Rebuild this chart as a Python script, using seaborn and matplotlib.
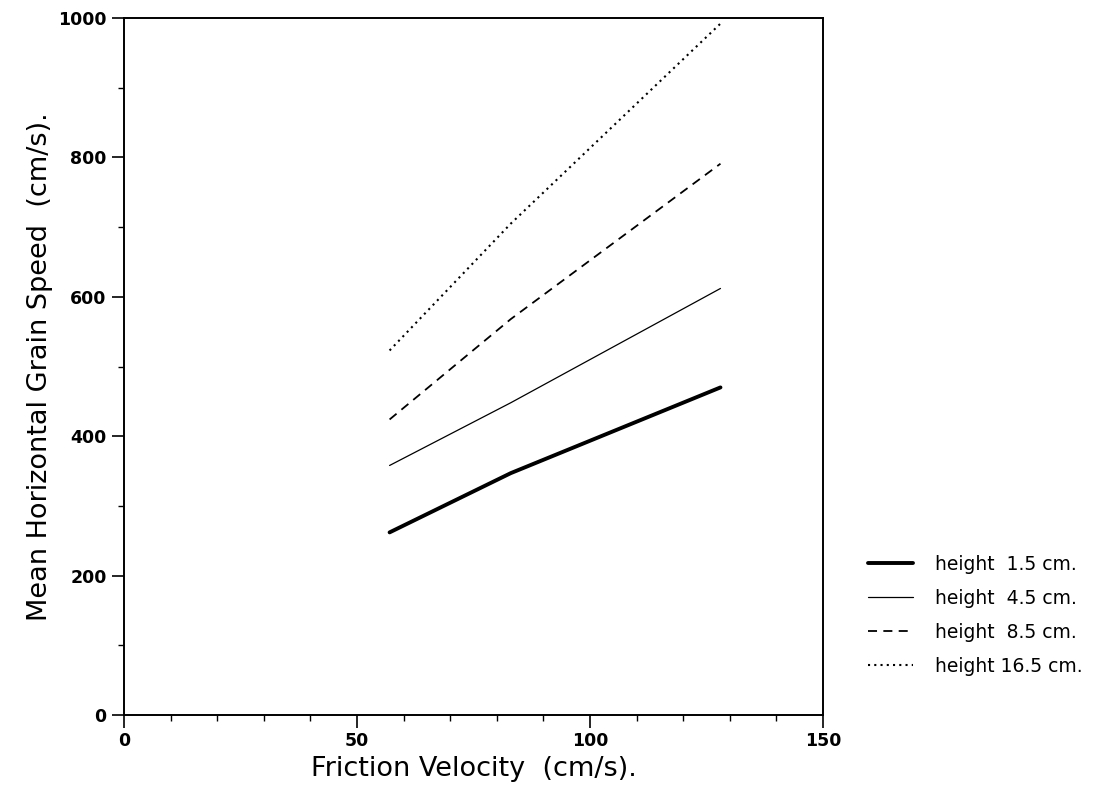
import seaborn as sns
import pandas as pd
import matplotlib.pyplot as plt
from matplotlib.ticker import MultipleLocator

# friction velocity (cm/s)
u_star = [57, 83, 128]

# mean horizontal grain speed (cm/s) at each height
h1_5 = [262, 347, 470]
h4_5 = [358, 448, 612]
h8_5 = [424, 568, 791]
h16_5 = [523, 705, 992]

labels = ["height  1.5 cm.", "height  4.5 cm.", "height  8.5 cm.", "height 16.5 cm."]
series = [h1_5, h4_5, h8_5, h16_5]

rows = []
for lab, vals in zip(labels, series):
    for x, y in zip(u_star, vals):
        rows.append({"u": x, "speed": y, "height": lab})
df = pd.DataFrame(rows)

sns.set_style("ticks", {"text.color": "black", "axes.labelcolor": "black",
                        "xtick.color": "black", "ytick.color": "black",
                        "axes.edgecolor": "black"})
plt.rcParams['font.family'] = ['DejaVu Sans']

fig = plt.figure(figsize=(10.95, 7.91), dpi=100)
ax = fig.add_axes([0.1132, 0.0961, 0.6384, 0.8811])

styles = [("-", 2.8), ("-", 0.9), ((0, (5, 3.5)), 1.3), ((0, (1, 2)), 1.5)]
for lab, (ls, lw) in zip(labels, styles):
    sub = df[df["height"] == lab]
    sns.lineplot(data=sub, x="u", y="speed", ax=ax, color="black",
                 linestyle=ls, linewidth=lw, label=lab)

ax.set_xlim(0, 150)
ax.set_ylim(0, 1000)
ax.xaxis.set_major_locator(MultipleLocator(50))
ax.xaxis.set_minor_locator(MultipleLocator(10))
ax.yaxis.set_major_locator(MultipleLocator(200))
ax.yaxis.set_minor_locator(MultipleLocator(100))
ax.tick_params(which="major", length=9, width=1.2, labelsize=12.5, direction="out")
ax.tick_params(which="minor", length=4.5, width=1.0, direction="out")
for t in ax.get_xticklabels() + ax.get_yticklabels():
    t.set_fontweight("bold")
for s in ax.spines.values():
    s.set_linewidth(1.4)

ax.set_xlabel("Friction Velocity  (cm/s).", fontsize=19.5)
ax.set_ylabel("Mean Horizontal Grain Speed  (cm/s).", fontsize=19.5)

leg = ax.legend(loc="center left", bbox_to_anchor=(0.7927, 0.222),
                bbox_transform=fig.transFigure, frameon=False,
                fontsize=13.5, handlelength=2.4, handletextpad=1.15,
                labelspacing=0.8, borderaxespad=0, borderpad=0)

fig.savefig("out.png", dpi=100)
